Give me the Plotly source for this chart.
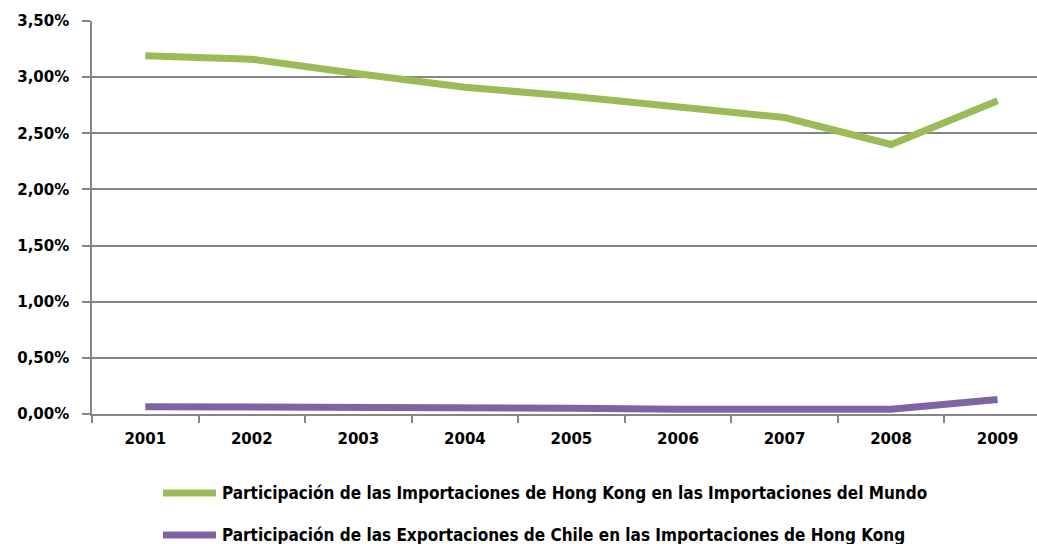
import plotly.graph_objects as go

years = ["2001", "2002", "2003", "2004", "2005", "2006", "2007", "2008", "2009"]
hk_world = [0.0319, 0.0316, 0.0303, 0.0291, 0.0283, 0.0273, 0.0264, 0.0240, 0.0279]
chile_hk = [0.00065, 0.00065, 0.00065, 0.00065, 0.00052, 0.00042, 0.00042, 0.00042, 0.0013]
names = [
    "Participación de las Importaciones de Hong Kong en las Importaciones del Mundo",
    "Participación de las Exportaciones de Chile en las Importaciones de Hong Kong",
]
colors = ["#9BBB59", "#8064A2"]

W, H = 1037, 544
ML, MR, MT, MB = 92, 0, 21, 130
PW = W - ML - MR
PH = H - MT - MB

fig = go.Figure()
for vals, nm, c in zip([hk_world, chile_hk], names, colors):
    fig.add_trace(go.Scatter(x=years, y=vals, name=nm, mode="lines",
                             line=dict(color=c, width=7), showlegend=False))

grey = "#868686"
tickfont = dict(family="DejaVu Sans", size=15, color="#000000", weight="bold")
fig.update_layout(
    width=W, height=H,
    margin=dict(l=ML, r=MR, t=MT, b=MB),
    paper_bgcolor="white", plot_bgcolor="white",
    separators=",.",
    font=dict(family="DejaVu Sans"),
    xaxis=dict(type="category", range=[-0.5, 8.37], showline=True, linecolor=grey, linewidth=1.5,
               ticks="outside", tickson="boundaries", ticklen=7, tickcolor=grey, tickwidth=1.5,
               showgrid=False, tickfont=tickfont, ticklabelstandoff=10),
    yaxis=dict(range=[0, 0.035], dtick=0.005, tickformat=".2%", showline=True, linecolor=grey,
               linewidth=1.5, ticks="outside", ticklen=8, tickcolor=grey, tickwidth=1.5,
               showgrid=True, gridcolor=grey, gridwidth=1.5, zeroline=False,
               tickfont=tickfont, ticklabelstandoff=10),
)

legend_y = [493, 535]
for nm, c, yy in zip(names, colors, legend_y):
    yp = 1 - (yy - MT) / PH
    fig.add_shape(type="line", xref="paper", yref="paper",
                  x0=(163 - ML) / PW, x1=(216 - ML) / PW, y0=yp, y1=yp,
                  line=dict(color=c, width=7))
    fig.add_annotation(text=nm, xref="paper", yref="paper",
                       x=(220 - ML) / PW, y=yp, xanchor="left", yanchor="middle",
                       showarrow=False,
                       font=dict(family="DejaVu Sans Condensed, Liberation Sans Narrow, Arial Narrow, sans-serif",
                                 size=17, color="#000000", weight="bold"))

fig.write_html("out.html", config={"displayModeBar": False},
               post_script="document.body.style.margin='0';document.body.style.overflow='hidden';")
